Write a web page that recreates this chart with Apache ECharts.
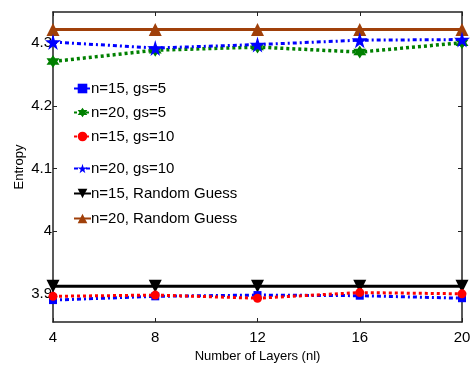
<!DOCTYPE html>
<html>
<head>
<meta charset="utf-8">
<script src="https://cdn.jsdelivr.net/npm/echarts@6/dist/echarts.min.js"></script>
<style>html,body{margin:0;padding:0;background:#fff}#c{width:470px;height:365px}</style>
</head>
<body>
<div id="c"></div>
<script>
var layers = [4, 8, 12, 16, 20];
var yTicks = [3.9, 4.0, 4.1, 4.2, 4.3];
var n15gs5 = [3.890, 3.896, 3.898, 3.897, 3.893];
var n20gs5 = [4.271, 4.289, 4.294, 4.286, 4.301];
var n15gs10 = [3.896, 3.898, 3.893, 3.902, 3.900];
var n20gs10 = [4.302, 4.2925, 4.298, 4.305, 4.306];
var n15rand = [3.912, 3.912, 3.912, 3.912, 3.912];
var n20rand = [4.322, 4.322, 4.322, 4.322, 4.322];
var names = ['n=15, gs=5', 'n=20, gs=5', 'n=15, gs=10', 'n=20, gs=10', 'n=15, Random Guess', 'n=20, Random Guess'];

var STAR = 'path://M50,0 L61,35 L98,35 L68,57 L79,91 L50,70 L21,91 L32,57 L2,35 L39,35 Z';
var HEX = 'path://M50,0 L64,25 L93,25 L78,50 L93,75 L64,75 L50,100 L36,75 L7,75 L22,50 L7,25 L36,25 Z';

function pts(arr) { return layers.map(function (x, i) { return [x, arr[i]]; }); }

var chart = echarts.init(document.getElementById('c'), null, {renderer: 'canvas'});
var font = 'Liberation Sans, Arial, sans-serif';
var axisLine = {show: true, lineStyle: {color: '#222', width: 1.5}};
var legendText = {fontFamily: font, fontSize: 15, color: '#000', padding: [0, 0, 0, -5]};
chart.setOption({
  animation: false,
  backgroundColor: '#fff',
  grid: {left: 53, right: 8, top: 12, bottom: 43, containLabel: false, outerBoundsMode: 'none'},
  legend: [{
    data: names.slice(0, 3), orient: 'vertical', left: 73, top: 81, itemGap: 9, padding: 0,
    itemWidth: 17, itemHeight: 12, textStyle: legendText
  }, {
    data: names.slice(3), orient: 'vertical', left: 73, top: 161, itemGap: 10, padding: 0,
    itemWidth: 17, itemHeight: 12, textStyle: legendText
  }],
  xAxis: [{
    type: 'value', min: 4, max: 20, interval: 4,
    name: 'Number of Layers (nl)', nameLocation: 'middle', nameGap: 28, nameMoveOverlap: false,
    nameTextStyle: {fontFamily: font, fontSize: 13, color: '#000'},
    axisLine: axisLine,
    axisTick: {show: true, inside: true, length: 4, lineStyle: {color: '#222'}},
    axisLabel: {fontFamily: font, fontSize: 15, color: '#000', margin: 8},
    splitLine: {show: false}
  }, {
    type: 'value', position: 'top', min: 4, max: 20, interval: 4,
    axisLine: axisLine,
    axisTick: {show: true, inside: true, length: 4, lineStyle: {color: '#222'}},
    axisLabel: {show: false}, splitLine: {show: false}
  }],
  yAxis: [{
    type: 'value', min: 3.855, max: 4.35,
    name: 'Entropy', nameLocation: 'middle', nameGap: 27, nameMoveOverlap: false,
    nameTextStyle: {fontFamily: font, fontSize: 13, color: '#000'},
    axisLine: axisLine,
    axisTick: {show: true, inside: true, length: 4, customValues: yTicks, lineStyle: {color: '#222'}},
    axisLabel: {fontFamily: font, fontSize: 15, color: '#000', margin: 1, customValues: yTicks,
      formatter: function (v) { return String(Math.round(v * 10) / 10); }},
    splitLine: {show: false}
  }, {
    type: 'value', position: 'right', min: 3.855, max: 4.35,
    axisLine: axisLine,
    axisTick: {show: true, inside: true, length: 4, customValues: yTicks, lineStyle: {color: '#222'}},
    axisLabel: {show: false}, splitLine: {show: false}
  }],
  series: [
    {name: names[5], type: 'line', data: pts(n20rand), symbol: 'triangle', symbolSize: 13,
      itemStyle: {color: '#a0400a'}, lineStyle: {color: '#a0400a', width: 3}, z: 2},
    {name: names[4], type: 'line', data: pts(n15rand), symbol: 'triangle', symbolRotate: 180, symbolSize: 13,
      itemStyle: {color: '#000'}, lineStyle: {color: '#000', width: 3}, z: 2},
    {name: names[0], type: 'line', data: pts(n15gs5), symbol: 'rect', symbolSize: 8,
      itemStyle: {color: '#0000ff'}, lineStyle: {color: '#0000ff', width: 3, type: [4, 3, 2, 3]}, z: 3},
    {name: names[1], type: 'line', data: pts(n20gs5), symbol: HEX, symbolSize: 13,
      itemStyle: {color: '#008000'}, lineStyle: {color: '#008000', width: 3.5, type: [3, 3]}, z: 3},
    {name: names[2], type: 'line', data: pts(n15gs10), symbol: 'circle', symbolSize: 9,
      itemStyle: {color: '#ff0000'}, lineStyle: {color: '#ff0000', width: 3, type: [3, 3]}, z: 4},
    {name: names[3], type: 'line', data: pts(n20gs10), symbol: STAR, symbolSize: 16,
      itemStyle: {color: '#0000ff'}, lineStyle: {color: '#0000ff', width: 3, type: [4, 3, 2, 3]}, z: 4}
  ]
});
</script>
</body>
</html>
